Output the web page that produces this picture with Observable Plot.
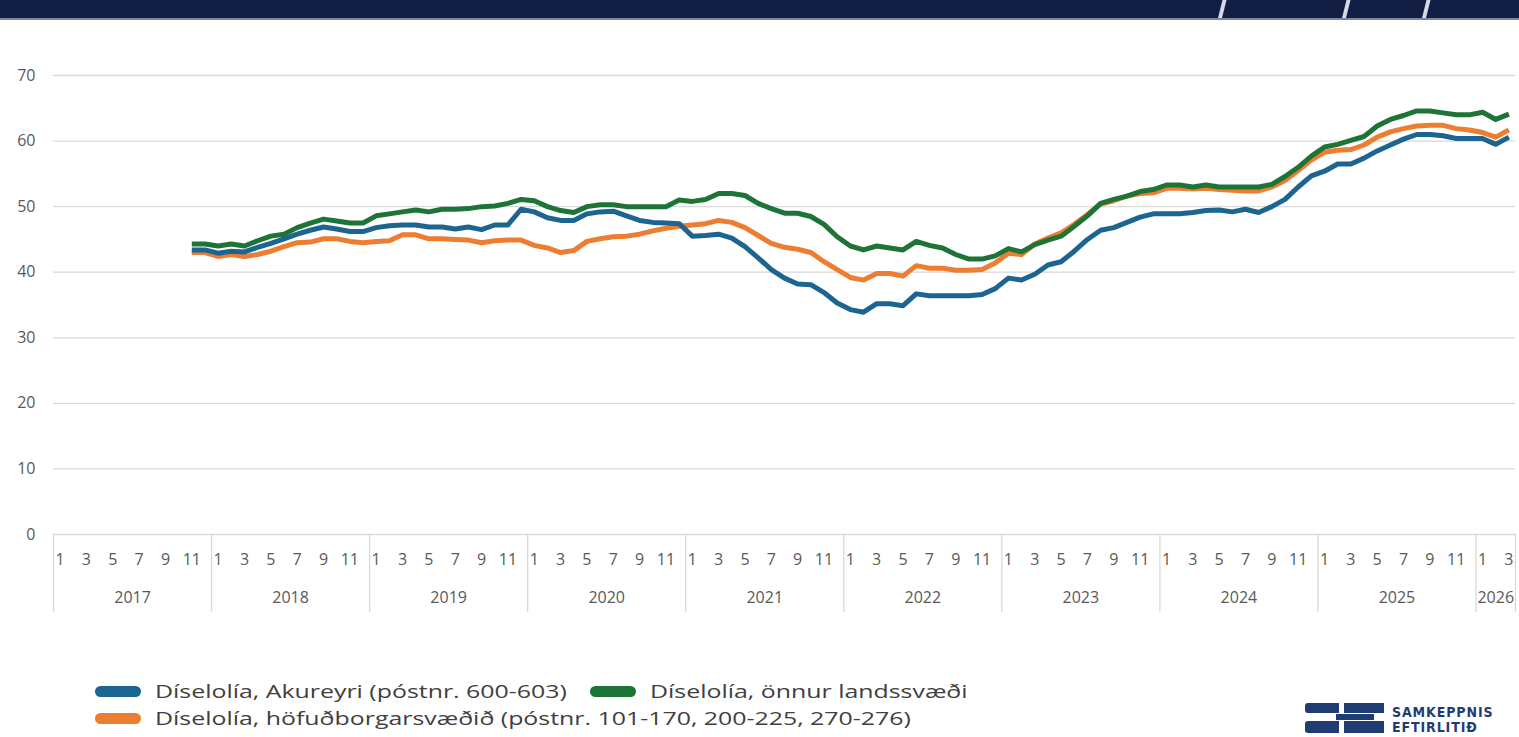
<!DOCTYPE html>
<html>
<head>
<meta charset="utf-8">
<script src="https://cdn.jsdelivr.net/npm/d3@7"></script>
<script src="https://cdn.jsdelivr.net/npm/@observablehq/plot@0.6"></script>
<style>
  html, body { margin:0; padding:0; background:#fff; }
  body { width:1519px; height:737px; position:relative; overflow:hidden; font-family:"Open Sans", sans-serif; }
  #bar { position:absolute; left:0; top:0; width:1519px; height:18px; background:#131e45; border-bottom:2px solid #7f86a3; overflow:hidden; }
  .slash { position:absolute; top:-2px; width:4px; height:24px; background:#d7dae4; transform:skewX(-14deg); }
  #chart { position:absolute; left:0; top:20px; }
  .leg { position:absolute; display:flex; align-items:center; font-size:19px; color:#404040; white-space:nowrap; }
  .leg .tx { display:inline-block; transform:scaleX(1.31); transform-origin:left center; }
  .sw { width:46px; height:11px; border-radius:6px; margin-right:14px; }
  #logo { position:absolute; left:1300px; top:700px; width:219px; height:37px; }
  #logo .b { position:absolute; background:#1f3c73; }
  #logo .t { position:absolute; left:92px; top:5px; font-family:"Liberation Sans Narrow","DejaVu Sans Condensed",sans-serif; font-weight:bold; color:#1f3c73; font-size:14px; line-height:15px; letter-spacing:0.9px; white-space:nowrap; }
</style>
</head>
<body>
<div id="bar">
  <div class="slash" style="left:1220px"></div>
  <div class="slash" style="left:1344px"></div>
  <div class="slash" style="left:1424px"></div>
  <div class="slash" style="left:1548px"></div>
</div>
<div id="chart"></div>
<div id="legend"></div>
<div id="logo">
  <div class="b" style="left:5px;top:3px;width:34px;height:10px;border-radius:3px 0 0 3px"></div>
  <div class="b" style="left:5px;top:21px;width:34px;height:12px;border-radius:3px 0 0 3px"></div>
  <div class="b" style="left:44px;top:3px;width:40px;height:10px"></div>
  <div class="b" style="left:36px;top:14px;width:38px;height:6px"></div>
  <div class="b" style="left:44px;top:21px;width:40px;height:12px"></div>
  <div class="t">SAMKEPPNIS<br>EFTIRLITIÐ</div>
</div>
<script>
// ---- Data ----
const years = [2017, 2018, 2019, 2020, 2021, 2022, 2023, 2024, 2025, 2026];
const monthsInYear = [12, 12, 12, 12, 12, 12, 12, 12, 12, 3];
const monthTickLabels = [1, 3, 5, 7, 9, 11];
const firstDataYear = 2017;
const firstDataMonth = 11;
const yTicks = [0, 10, 20, 30, 40, 50, 60, 70];

const seriesNames = [
  "Díselolía, Akureyri (póstnr. 600-603)",
  "Díselolía, önnur landssvæði",
  "Díselolía, höfuðborgarsvæðið (póstnr. 101-170, 200-225, 270-276)"
];
const seriesColors = ["#1c6590", "#1e7436", "#ed7d31"];

const akureyri = [
  43.4, 43.4, 42.9, 43.2, 43.1, 43.8, 44.4, 45.1, 45.8, 46.4,
  46.9, 46.6, 46.2, 46.2, 46.8, 47.1, 47.2, 47.2, 46.9, 46.9,
  46.6, 46.9, 46.5, 47.2, 47.2, 49.6, 49.2, 48.3, 47.9, 47.9,
  48.9, 49.2, 49.3, 48.6, 47.9, 47.6, 47.5, 47.4, 45.5, 45.6,
  45.8, 45.2, 43.9, 42.2, 40.4, 39.1, 38.2, 38.1, 36.9, 35.3,
  34.3, 33.9, 35.2, 35.2, 34.9, 36.7, 36.4, 36.4, 36.4, 36.4,
  36.6, 37.5, 39.1, 38.8, 39.7, 41.1, 41.6, 43.2, 45.0, 46.4,
  46.8, 47.6, 48.4, 48.9, 48.9, 48.9, 49.1, 49.4, 49.5, 49.2,
  49.6, 49.1, 50.0, 51.1, 53.0, 54.7, 55.4, 56.5, 56.5, 57.4,
  58.5, 59.4, 60.3, 61.0, 61.0, 60.8, 60.4, 60.4, 60.4, 59.5, 60.6
];
const onnurLandssvaedi = [
  44.3, 44.3, 44.0, 44.3, 44.0, 44.8, 45.5, 45.8, 46.8, 47.5,
  48.1, 47.8, 47.5, 47.5, 48.6, 48.9, 49.2, 49.5, 49.2, 49.6,
  49.6, 49.7, 50.0, 50.1, 50.5, 51.1, 50.9, 50.0, 49.4, 49.1,
  50.0, 50.3, 50.3, 50.0, 50.0, 50.0, 50.0, 51.0, 50.8, 51.1,
  52.0, 52.0, 51.7, 50.5, 49.7, 49.0, 49.0, 48.5, 47.3, 45.4,
  44.0, 43.4, 44.0, 43.7, 43.4, 44.7, 44.1, 43.7, 42.7, 42.0,
  42.0, 42.5, 43.6, 43.1, 44.2, 44.9, 45.5, 47.0, 48.6, 50.5,
  51.1, 51.6, 52.3, 52.6, 53.3, 53.3, 53.0, 53.3, 53.0, 53.0,
  53.0, 53.0, 53.4, 54.6, 56.0, 57.7, 59.1, 59.5, 60.1, 60.7,
  62.3, 63.3, 63.9, 64.6, 64.6, 64.3, 64.0, 64.0, 64.4, 63.3, 64.1
];
const hofudborgarsvaedid = [
  43.0, 43.0, 42.4, 42.7, 42.4, 42.7, 43.2, 43.9, 44.5, 44.6,
  45.1, 45.1, 44.7, 44.5, 44.7, 44.8, 45.7, 45.7, 45.1, 45.1,
  45.0, 44.9, 44.5, 44.8, 44.9, 44.9, 44.1, 43.7, 43.0, 43.3,
  44.7, 45.1, 45.4, 45.5, 45.8, 46.3, 46.7, 47.0, 47.2, 47.4,
  47.9, 47.6, 46.8, 45.6, 44.4, 43.8, 43.5, 43.0, 41.6, 40.4,
  39.2, 38.8, 39.8, 39.8, 39.4, 41.0, 40.6, 40.6, 40.3, 40.3,
  40.4, 41.4, 42.9, 42.7, 44.3, 45.2, 46.0, 47.3, 48.8, 50.4,
  50.9, 51.6, 52.0, 52.1, 52.8, 52.8, 52.7, 52.8, 52.6, 52.5,
  52.4, 52.4, 53.0, 54.0, 55.5, 57.1, 58.3, 58.6, 58.7, 59.4,
  60.6, 61.4, 61.9, 62.3, 62.4, 62.4, 61.9, 61.7, 61.3, 60.6, 61.7
];

// ---- Categories (year / month) ----
const categories = [];
years.forEach((yr, yi) => {
  for (let m = 1; m <= monthsInYear[yi]; m++) categories.push({year: yr, month: m, i: categories.length});
});
const nCat = categories.length;
const startIdx = categories.findIndex(c => c.year === firstDataYear && c.month === firstDataMonth);

const yearBlocks = [];
{
  let s = 0;
  years.forEach((yr, yi) => { yearBlocks.push({year: yr, start: s, end: s + monthsInYear[yi]}); s += monthsInYear[yi]; });
}
const boundaries = [0, ...yearBlocks.map(b => b.end)];
const monthLabels = categories.filter(c => monthTickLabels.includes(c.month));

function rows(values) {
  return values.map((v, k) => ({x: startIdx + k + 0.5, v}));
}
const orderDraw = [
  {vals: hofudborgarsvaedid, color: seriesColors[2]},
  {vals: akureyri, color: seriesColors[0]},
  {vals: onnurLandssvaedi, color: seriesColors[1]}
];

const grey = "#d9d9d9";
const labelColor = "#595959";

const plot = Plot.plot({
  width: 1519,
  height: 614,
  marginTop: 55,
  marginBottom: 100,
  marginLeft: 53,
  marginRight: 4,
  x: {type: "linear", domain: [0, nCat], axis: null},
  y: {domain: [0, 70], axis: null},
  style: {fontFamily: "'Open Sans', sans-serif", fontSize: "16px", color: labelColor, background: "transparent", overflow: "visible"},
  marks: [
    Plot.ruleY(yTicks, {stroke: grey, strokeWidth: 1.3}),
    Plot.ruleX(boundaries, {x: d => d, y1: 0, y2: -11.9, stroke: grey, strokeWidth: 1.3}),
    Plot.axisY({ticks: yTicks, tickSize: 0, tickPadding: 18, fontSize: 16, label: null, tickFormat: d => String(d)}),
    Plot.text(monthLabels, {x: d => d.i + 0.5, y: 0, dy: 25, text: d => String(d.month), fill: labelColor, fontSize: 16}),
    Plot.text(yearBlocks, {x: d => (d.start + d.end) / 2, y: 0, dy: 63, text: d => String(d.year), fill: labelColor, fontSize: 16}),
    ...orderDraw.map(s => Plot.line(rows(s.vals), {x: "x", y: "v", stroke: s.color, strokeWidth: 5, strokeLinejoin: "round", strokeLinecap: "butt"}))
  ]
});
document.getElementById("chart").appendChild(plot);

// ---- Legend ----
const legendItems = [
  {name: seriesNames[0], color: seriesColors[0], left: 95, top: 678},
  {name: seriesNames[1], color: seriesColors[1], left: 590, top: 678},
  {name: seriesNames[2], color: seriesColors[2], left: 95, top: 705}
];
const legend = document.getElementById("legend");
legendItems.forEach(it => {
  const d = document.createElement("div");
  d.className = "leg";
  d.style.left = it.left + "px";
  d.style.top = it.top + "px";
  d.innerHTML = `<span class="sw" style="background:${it.color}"></span><span class="tx">${it.name}</span>`;
  legend.appendChild(d);
});
</script>
</body>
</html>
